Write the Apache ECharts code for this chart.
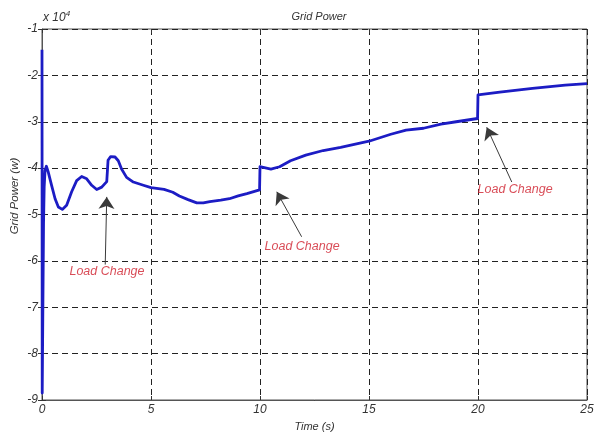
<!DOCTYPE html>
<html>
<head>
<meta charset="utf-8">
<script src="https://cdn.jsdelivr.net/npm/echarts@6/dist/echarts.min.js"></script>
<style>
  html, body { margin: 0; padding: 0; background: #fff; }
  #chart { width: 609px; height: 437px; }
</style>
</head>
<body>
<div id="chart"></div>
<script>
// time (s) and grid power (x 10^4 W)
const timeS = [0, 0.01, 0.04, 0.07, 0.1, 0.14, 0.2, 0.29, 0.44, 0.6, 0.75, 0.93, 1.13, 1.36, 1.59, 1.82, 2.05, 2.28, 2.51, 2.74, 2.97,
  3.03, 3.15, 3.35, 3.5, 3.65, 3.88, 4.19, 4.65, 5.0, 5.6, 6.0, 6.3, 6.7, 7.1, 7.4, 7.7, 8.2, 8.6, 9.0, 9.4, 9.98,
  10.0, 10.5, 10.9, 11.4, 12.1, 12.9, 13.7, 15.0, 16.0, 16.7, 17.5, 18.3, 19.0, 19.98,
  20.0, 21.0, 22.5, 24.0, 25.0];
const gridPower = [-1.45, -8.85, -7.0, -5.2, -4.4, -4.05, -3.96, -4.09, -4.37, -4.66, -4.84, -4.89, -4.8, -4.51, -4.27, -4.18, -4.23, -4.37, -4.46, -4.41, -4.29,
  -3.83, -3.75, -3.76, -3.84, -4.02, -4.2, -4.3, -4.37, -4.42, -4.46, -4.52, -4.6, -4.68, -4.75, -4.75, -4.72, -4.69, -4.66, -4.6, -4.55, -4.47,
  -3.97, -4.02, -3.97, -3.84, -3.72, -3.62, -3.55, -3.42, -3.27, -3.18, -3.14, -3.05, -3.0, -2.93,
  -2.42, -2.36, -2.28, -2.21, -2.18];

// "Load Change" annotations (data coords)
const arrowTail = [[2.9, -6.08], [11.91, -5.48], [21.55, -4.3]];
const arrowTip = [[2.97, -4.62], [10.77, -4.51], [20.4, -3.12]];
const labelPos = [[2.98, -6.24], [11.93, -5.68], [21.7, -4.46]];
const labelText = 'Load Change';

const font = 'Liberation Sans';
const txt = '#333';

const chart = echarts.init(document.getElementById('chart'));

chart.setOption({
  animation: false,
  title: {
    text: 'Grid Power',
    left: 314, top: 6, textAlign: 'center',
    textStyle: { fontFamily: font, fontStyle: 'italic', fontWeight: 'normal', fontSize: 11, color: txt }
  },
  grid: { left: 42, right: 22, top: 29, bottom: 34, show: true, borderColor: '#555', borderWidth: 1 },
  xAxis: [{
    type: 'value', min: 0, max: 25, interval: 5,
    name: 'Time (s)', nameLocation: 'middle', nameGap: 21,
    nameTextStyle: { fontFamily: font, fontStyle: 'italic', fontSize: 11, color: txt },
    axisLine: { lineStyle: { color: '#555' } },
    axisTick: { inside: true, length: 4, lineStyle: { color: '#333' } },
    axisLabel: { fontFamily: font, fontStyle: 'italic', fontSize: 12, color: txt, margin: 4 },
    splitLine: { lineStyle: { type: [6, 4], color: '#222', width: 1 } }
  }, {
    // matlab style ticks on top
    type: 'value', position: 'top', min: 0, max: 25, interval: 5,
    axisLine: { show: false },
    axisTick: { inside: true, length: 4, lineStyle: { color: '#333' } },
    axisLabel: { show: false }, splitLine: { show: false }
  }],
  yAxis: [{
    type: 'value', min: -9, max: -1, interval: 1,
    axisLine: { show: true, lineStyle: { color: '#555' } },
    axisTick: { show: true, inside: true, length: 4, lineStyle: { color: '#333' } },
    axisLabel: { fontFamily: font, fontStyle: 'italic', fontSize: 12, color: txt, margin: 4 },
    splitLine: { lineStyle: { type: [6, 4], color: '#222', width: 1 } }
  }, {
    type: 'value', position: 'right', min: -9, max: -1, interval: 1,
    axisLine: { show: false },
    axisTick: { show: true, inside: true, length: 4, lineStyle: { color: '#333' } },
    axisLabel: { show: false }, splitLine: { show: false }
  }],
  graphic: [
    {
      type: 'text', left: 43, top: 10,
      style: {
        text: '{b|x 10}{s|4}',
        rich: {
          b: { fontFamily: font, fontStyle: 'italic', fontSize: 12, fill: txt, verticalAlign: 'bottom' },
          s: { fontFamily: font, fontStyle: 'italic', fontSize: 8, fill: txt, verticalAlign: 'top', padding: [0, 0, 6, 0] }
        }
      }
    },
    {
      type: 'text', x: 15, y: 196, rotation: Math.PI / 2,
      style: {
        text: 'Grid Power (w)', align: 'center', verticalAlign: 'middle',
        fontFamily: font, fontStyle: 'italic', fontSize: 11.5, fill: txt
      }
    }
  ],
  series: [
    {
      type: 'line',
      data: timeS.map((t, i) => [t, gridPower[i]]),
      showSymbol: false,
      lineStyle: { color: '#1c1cc4', width: 2.8, join: 'round' },
      silent: true,
      markLine: {
        silent: true,
        symbol: ['none', 'arrow'],
        symbolSize: 12,
        label: { show: false },
        lineStyle: { color: '#3a3a3a', width: 1, type: 'solid' },
        data: arrowTail.map((p, i) => [{ coord: p }, { coord: arrowTip[i] }])
      }
    },
    {
      type: 'scatter',
      data: labelPos,
      symbolSize: 0,
      silent: true,
      label: {
        show: true, position: 'inside', formatter: labelText,
        fontFamily: font, fontStyle: 'italic', fontSize: 12.5, color: '#d0202e'
      }
    }
  ]
});
</script>
</body>
</html>
